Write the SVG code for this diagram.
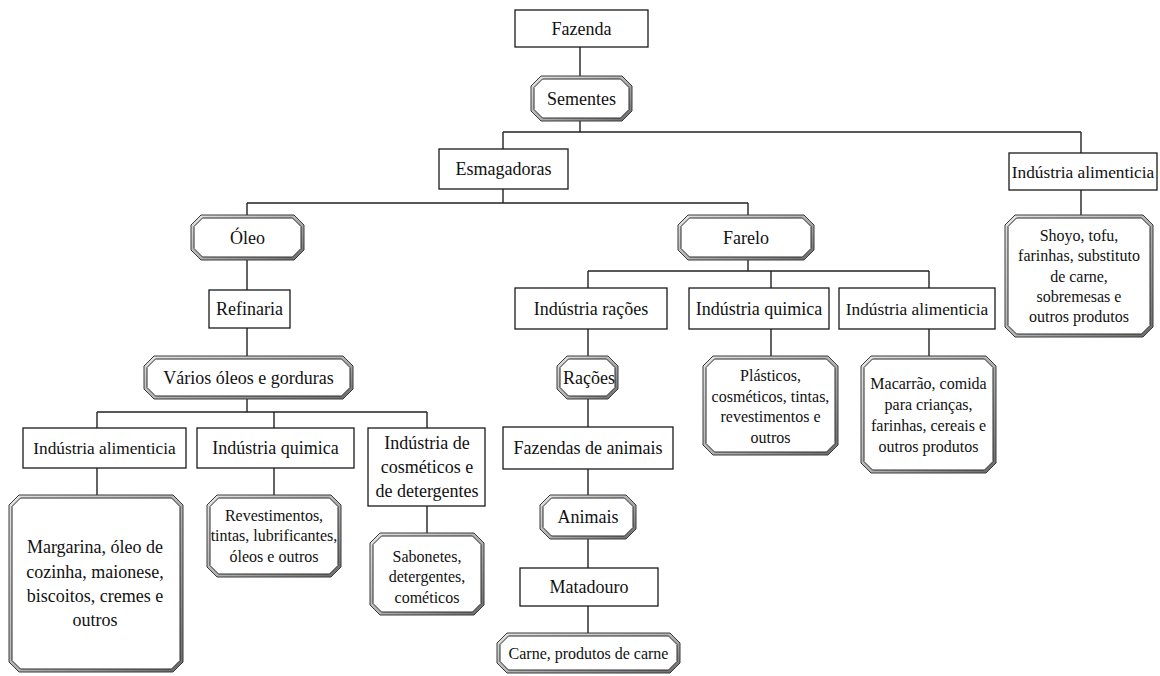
<svg xmlns="http://www.w3.org/2000/svg" width="1160" height="676" viewBox="0 0 1160 676">
<defs>
<linearGradient id="band" x1="0" y1="0" x2="1" y2="1">
<stop offset="0" stop-color="#e4e4e4"/>
<stop offset="0.5" stop-color="#b4b4b4"/>
<stop offset="1" stop-color="#6a6a6a"/>
</linearGradient>
</defs>
<style>
.box{fill:#fff;stroke:#1a1a1a;stroke-width:1.3}
.o{fill:url(#band);stroke:#3a3a3a;stroke-width:1}
.i{fill:#fff;stroke:#2a2a2a;stroke-width:1}
.t{font-family:"Liberation Serif","Times New Roman",serif;font-size:18px;fill:#111;text-anchor:middle}
.s{font-size:16px}
.n{font-size:17.3px}
.c{fill:none;stroke:#222;stroke-width:1.4}
</style>
<rect width="1160" height="676" fill="#fff"/>
<g id="connectors" class="c">
<path d="M580,47V76M580,121V132M503,132H1081M503,132V149M1081,132V153M1081,190V215"/>
<path d="M503,189V203M247,203H748M247,203V215M748,203V215"/>
<path d="M247,260V290M247,328V356M247,399V412M97,412H427M97,412V428M274,412V428M427,412V428"/>
<path d="M97,468V495M274,468V495M427,506V533"/>
<path d="M748,260V271M588,271H929M588,271V288M771,271V288M929,271V288"/>
<path d="M588,329V356M588,399V427M588,469V495M588,539V568M588,606V633"/>
<path d="M771,329V356M929,329V356"/>
</g>
<g id="fazenda"><rect class="box" x="515" y="10" width="133" height="37"/><text class="t" x="581.5" y="35">Fazenda</text></g>
<g id="sementes"><path class="o" d="M541,76h81l10,10v25l-10,10h-81l-10,-10v-25z"/><path class="i" d="M542.5,79h78l8.5,8.5v22l-8.5,8.5h-78l-8.5,-8.5v-22z"/><text class="t" x="581.5" y="104.5">Sementes</text></g>
<g id="esmagadoras"><rect class="box" x="439" y="149" width="129" height="40"/><text class="t" x="503.5" y="175">Esmagadoras</text></g>
<g id="ind-alim-dir"><rect class="box" x="1009" y="153" width="148" height="37"/><text class="t n" x="1083" y="177.5">Indústria alimenticia</text></g>
<g id="shoyo"><path class="o" d="M1015,215h128l10,10v102l-10,10h-128l-10,-10v-102z"/><path class="i" d="M1016.5,218h125l8.5,8.5v99l-8.5,8.5h-125l-8.5,-8.5v-99z"/><text class="t s" x="1079"><tspan x="1079" y="240.5">Shoyo, tofu,</tspan><tspan x="1079" y="260.5">farinhas, substituto</tspan><tspan x="1079" y="282">de carne,</tspan><tspan x="1079" y="302">sobremesas e</tspan><tspan x="1079" y="322">outros produtos</tspan></text></g>
<g id="oleo"><path class="o" d="M201,215h93l10,10v25l-10,10h-93l-10,-10v-25z"/><path class="i" d="M202.5,218h90l8.5,8.5v22l-8.5,8.5h-90l-8.5,-8.5v-22z"/><text class="t" x="247.5" y="243.5">Óleo</text></g>
<g id="farelo"><path class="o" d="M688,215h116l10,10v25l-10,10h-116l-10,-10v-25z"/><path class="i" d="M689.5,218h113l8.5,8.5v22l-8.5,8.5h-113l-8.5,-8.5v-22z"/><text class="t" x="746" y="243.5">Farelo</text></g>
<g id="refinaria"><rect class="box" x="209" y="290" width="81" height="38"/><text class="t" x="249.5" y="315">Refinaria</text></g>
<g id="varios"><path class="o" d="M154,356h189l10,10v23l-10,10h-189l-10,-10v-23z"/><path class="i" d="M155.5,359h186l8.5,8.5v20l-8.5,8.5h-186l-8.5,-8.5v-20z"/><text class="t" x="248.5" y="383.5">Vários óleos e gorduras</text></g>
<g id="ind-alim-esq"><rect class="box" x="23" y="428" width="163" height="40"/><text class="t n" x="104.5" y="454">Indústria alimenticia</text></g>
<g id="ind-quim-esq"><rect class="box" x="197" y="428" width="157" height="40"/><text class="t" x="275.5" y="454">Indústria quimica</text></g>
<g id="ind-cosm"><rect class="box" x="368" y="428" width="117" height="78"/><text class="t" x="427"><tspan x="427" y="448.5">Indústria de</tspan><tspan x="427" y="472.5">cosméticos e</tspan><tspan x="427" y="496.5">de detergentes</tspan></text></g>
<g id="margarina"><path class="o" d="M19,495h154l10,10v157l-10,10h-154l-10,-10v-157z"/><path class="i" d="M20.5,498h151l8.5,8.5v154l-8.5,8.5h-151l-8.5,-8.5v-154z"/><text class="t" x="95"><tspan x="95" y="553">Margarina, óleo de</tspan><tspan x="95" y="577.5">cozinha, maionese,</tspan><tspan x="95" y="602">biscoitos, cremes e</tspan><tspan x="95" y="626">outros</tspan></text></g>
<g id="revestimentos"><path class="o" d="M217,495h114l10,10v62l-10,10h-114l-10,-10v-62z"/><path class="i" d="M218.5,498h111l8.5,8.5v59l-8.5,8.5h-111l-8.5,-8.5v-59z"/><text class="t s" x="274"><tspan x="274" y="520.5">Revestimentos,</tspan><tspan x="274" y="541">tintas, lubrificantes,</tspan><tspan x="274" y="562">óleos e outros</tspan></text></g>
<g id="sabonetes"><path class="o" d="M380,533h94l10,10v62l-10,10h-94l-10,-10v-62z"/><path class="i" d="M381.5,536h91l8.5,8.5v59l-8.5,8.5h-91l-8.5,-8.5v-59z"/><text class="t s" x="427"><tspan x="427" y="561.5">Sabonetes,</tspan><tspan x="427" y="582">detergentes,</tspan><tspan x="427" y="602.5">cométicos</tspan></text></g>
<g id="ind-racoes"><rect class="box" x="515" y="288" width="152" height="41"/><text class="t" x="591" y="314.5">Indústria rações</text></g>
<g id="ind-quim-meio"><rect class="box" x="689" y="288" width="140" height="41"/><text class="t" x="759" y="314.5">Indústria quimica</text></g>
<g id="ind-alim-meio"><rect class="box" x="839" y="288" width="156" height="41"/><text class="t n" x="917" y="314.5">Indústria alimenticia</text></g>
<g id="racoes"><path class="o" d="M567,356h41l10,10v23l-10,10h-41l-10,-10v-23z"/><path class="i" d="M568.5,359h38l8.5,8.5v20l-8.5,8.5h-38l-8.5,-8.5v-20z"/><text class="t" x="589" y="383.5">Rações</text></g>
<g id="plasticos"><path class="o" d="M713,356h115l10,10v79l-10,10h-115l-10,-10v-79z"/><path class="i" d="M714.5,359h112l8.5,8.5v76l-8.5,8.5h-112l-8.5,-8.5v-76z"/><text class="t s" x="770.5"><tspan x="770.5" y="380.5">Plásticos,</tspan><tspan x="770.5" y="401.5">cosméticos, tintas,</tspan><tspan x="770.5" y="422">revestimentos e</tspan><tspan x="770.5" y="443">outros</tspan></text></g>
<g id="macarrao"><path class="o" d="M871,356h115l10,10v97l-10,10h-115l-10,-10v-97z"/><path class="i" d="M872.5,359h112l8.5,8.5v94l-8.5,8.5h-112l-8.5,-8.5v-94z"/><text class="t s" x="928.5"><tspan x="928.5" y="389">Macarrão, comida</tspan><tspan x="928.5" y="409.5">para crianças,</tspan><tspan x="928.5" y="430.5">farinhas, cereais e</tspan><tspan x="928.5" y="452">outros produtos</tspan></text></g>
<g id="fazendas-animais"><rect class="box" x="503" y="427" width="170" height="42"/><text class="t" x="588" y="454">Fazendas de animais</text></g>
<g id="animais"><path class="o" d="M550,495h76l10,10v24l-10,10h-76l-10,-10v-24z"/><path class="i" d="M551.5,498h73l8.5,8.5v21l-8.5,8.5h-73l-8.5,-8.5v-21z"/><text class="t" x="588" y="523">Animais</text></g>
<g id="matadouro"><rect class="box" x="520" y="568" width="138" height="38"/><text class="t" x="589" y="593">Matadouro</text></g>
<g id="carne"><path class="o" d="M507,633h163l10,10v20l-10,10h-163l-10,-10v-20z"/><path class="i" d="M508.5,636h160l8.5,8.5v17l-8.5,8.5h-160l-8.5,-8.5v-17z"/><text class="t s" x="588.5" y="658.5">Carne, produtos de carne</text></g>
</svg>
